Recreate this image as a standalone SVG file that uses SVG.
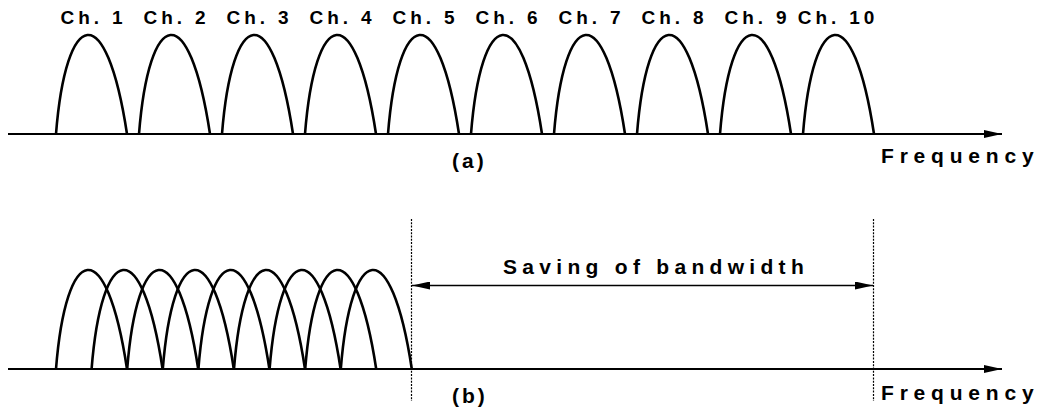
<svg xmlns="http://www.w3.org/2000/svg" xmlns:xlink="http://www.w3.org/1999/xlink" width="1047" height="414" viewBox="0 0 1047 414">
<style>
.arch{fill:none;stroke:#000;stroke-width:2.6;stroke-linejoin:round}
.axis{fill:none;stroke:#000;stroke-width:2}
.dash{fill:none;stroke:#000;stroke-width:1.2;stroke-dasharray:2 1.3}
.dim{fill:none;stroke:#000;stroke-width:1.6}
.ch{font-family:"Liberation Sans",Arial,sans-serif;font-weight:bold;font-size:19px;letter-spacing:3.9px;fill:#000;text-anchor:middle}
.lbl{font-family:"Liberation Sans",Arial,sans-serif;font-weight:bold;font-size:21px;fill:#000}
</style>
<defs>
<path id="arch" class="arch" d="M0 0 C10 -126 50 -138 71 0"/>
<marker id="ah" viewBox="0 0 18 8" refX="18" refY="4" markerWidth="18" markerHeight="8" markerUnits="userSpaceOnUse" orient="auto-start-reverse">
<path d="M0 0 L18 4 L0 8 Z" fill="#000"/>
</marker>
</defs>
<g id="connectors">
<line id="axis-a" class="axis" x1="8" y1="134" x2="1002" y2="134" marker-end="url(#ah)"/>
<line id="axis-b" class="axis" x1="8" y1="369" x2="1002" y2="369" marker-end="url(#ah)"/>
<line id="dash-left" class="dash" x1="411.5" y1="219" x2="411.5" y2="401"/>
<line id="dash-right" class="dash" x1="873.5" y1="219" x2="873.5" y2="401"/>
<line id="saving-arrow" class="dim" x1="412" y1="285.5" x2="873" y2="285.5" marker-start="url(#ah)" marker-end="url(#ah)"/>
</g>
<g id="ch1"><use href="#arch" x="56" y="134"/><text class="ch" x="93.5" y="24">Ch. 1</text></g>
<g id="ch2"><use href="#arch" x="139" y="134"/><text class="ch" x="176.5" y="24">Ch. 2</text></g>
<g id="ch3"><use href="#arch" x="222" y="134"/><text class="ch" x="259.5" y="24">Ch. 3</text></g>
<g id="ch4"><use href="#arch" x="305" y="134"/><text class="ch" x="342.5" y="24">Ch. 4</text></g>
<g id="ch5"><use href="#arch" x="388" y="134"/><text class="ch" x="425.5" y="24">Ch. 5</text></g>
<g id="ch6"><use href="#arch" x="471" y="134"/><text class="ch" x="508.5" y="24">Ch. 6</text></g>
<g id="ch7"><use href="#arch" x="554" y="134"/><text class="ch" x="591.5" y="24">Ch. 7</text></g>
<g id="ch8"><use href="#arch" x="637" y="134"/><text class="ch" x="674.5" y="24">Ch. 8</text></g>
<g id="ch9"><use href="#arch" x="720" y="134"/><text class="ch" x="757.5" y="24">Ch. 9</text></g>
<g id="ch10"><use href="#arch" x="803" y="134"/><text class="ch" x="838" y="24">Ch. 10</text></g>
<g id="label-a"><text class="lbl" x="452" y="168" letter-spacing="3">(a)</text></g>
<g id="freq-a"><text class="lbl" x="881" y="163" letter-spacing="5.8">Frequency</text></g>
<g id="overlap-channels">
<use href="#arch" x="56" y="369"/>
<use href="#arch" x="91.6" y="369"/>
<use href="#arch" x="127.2" y="369"/>
<use href="#arch" x="162.8" y="369"/>
<use href="#arch" x="198.4" y="369"/>
<use href="#arch" x="234" y="369"/>
<use href="#arch" x="269.6" y="369"/>
<use href="#arch" x="305.2" y="369"/>
<use href="#arch" x="340.8" y="369"/>
</g>
<g id="saving-label"><text class="lbl" x="503" y="274" font-size="20" letter-spacing="5.3">Saving of bandwidth</text></g>
<g id="label-b"><text class="lbl" x="452" y="403" letter-spacing="3">(b)</text></g>
<g id="freq-b"><text class="lbl" x="881" y="400" letter-spacing="5.8">Frequency</text></g>
</svg>
